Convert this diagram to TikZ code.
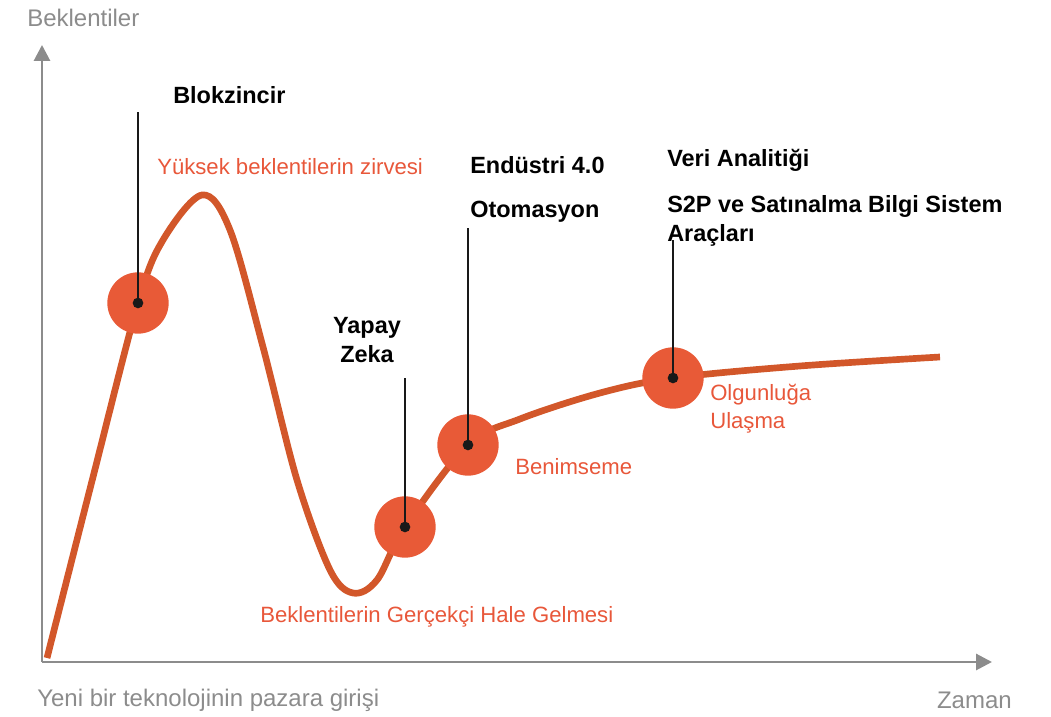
\documentclass[tikz,border=0pt]{standalone}
\usepackage{fontspec}
\setmainfont{Liberation Sans}
\usetikzlibrary{arrows.meta, positioning}
\definecolor{axgray}{HTML}{8C8C8C}
\definecolor{hypeline}{HTML}{D2572A}
\definecolor{hypedot}{HTML}{E85A37}
\definecolor{hypetxt}{HTML}{E8573A}
\tikzset{%
    ax/.style={line width=2.2pt, draw=axgray, -{Triangle[length=12pt,width=12pt]}},
    axl/.style={text=axgray, inner sep=0pt, font=\fontsize{18}{22}\selectfont},
    hype/.style={line width=5pt, draw=hypeline},
    phase/.style={circle, fill=hypedot, minimum size=46pt, inner sep=0pt},
    dot/.style={circle, fill=black!90, minimum size=8pt, inner sep=0pt},
    lead/.style={line width=1.6pt, draw=black!90},
    tech/.style={inner sep=0pt, font=\bfseries\fontsize{17.6}{22}\selectfont},
    ph/.style={text=hypetxt, inner sep=0pt, font=\fontsize{16.6}{21}\selectfont},
}

\begin{document}
\begin{tikzpicture}[x=0.75pt, y=0.75pt]
    \useasboundingbox (0,0) rectangle (1051,717);
    % axes
    \coordinate (O) at (42,55);
    \coordinate (Y) at (42,672);
    \coordinate (X) at (992,55);
    \draw [ax] (O) -- (Y);
    \draw [ax] (O) -- (X);
    \node [axl, anchor=west] (ylab) at (27,699) {Beklentiler};
    \node [axl, anchor=west] (xlab) at (37,17) {Yeni bir teknolojinin pazara girişi};
    \node [axl, anchor=east] (tlab) at (1012,17) {Zaman};
    % hype curve
    \draw [hype] plot [smooth, tension=0.55] coordinates {(47,59) (92,236) (138,414) (163,477)
        (202,522) (230,487) (263,370) (297,237) (330,147) (353,124) (377,137) (405,190)
        (468,272) (520,298) (600,324) (673,339) (800,351) (940,360)};
    % phases
    \node [phase] (peak) at (138,414) {};
    \node [phase] (trough) at (405,190) {};
    \node [phase] (adopt) at (468,272) {};
    \node [phase] (mature) at (673,339) {};
    \foreach \p/\h in {peak/605, trough/339, adopt/489, mature/477}{
        \node [dot] (\p-d) at (\p.center) {};
        \coordinate (\p-t) at (\p-d |- 0,\h);
        \draw [lead] (\p-d.center) -- (\p-t);
    }
    % phase names
    \node [ph, anchor=west] (peaklab) at (157,550) {Yüksek beklentilerin zirvesi};
    \node [ph, anchor=west] (troughlab) at (260,100) {Beklentilerin Gerçekçi Hale Gelmesi};
    \node [ph, anchor=west] (adoptlab) at (515,250) {Benimseme};
    \node [ph, anchor=west, align=left] (maturelab) at (710,308) {Olgunluğa\\Ulaşma};
    % technologies
    \node [tech, anchor=west] (bc) at (173,622) {Blokzincir};
    \node [tech, align=center] (ai) at (367,377) {Yapay\\Zeka};
    \node [tech, anchor=west] (ind) at (470,552) {Endüstri 4.0};
    \node [tech, anchor=west] (oto) at (470,505) {Otomasyon};
    \node [tech, anchor=west] (va) at (667,557) {Veri Analitiği};
    \node [tech, anchor=west, align=left] (s2p) at (667,496) {S2P ve Satınalma Bilgi Sistem\\Araçları};
\end{tikzpicture}
\end{document}
